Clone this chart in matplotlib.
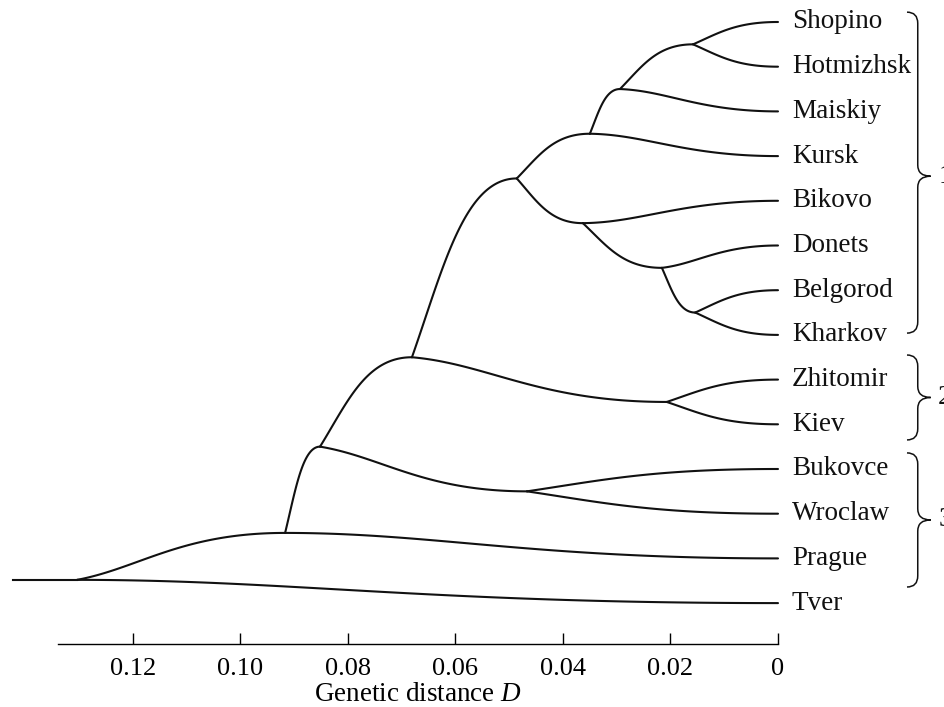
import numpy as np
import matplotlib
matplotlib.use("Agg")
import matplotlib.pyplot as plt
from matplotlib.path import Path
from matplotlib.patches import PathPatch

plt.rcParams['font.family'] = ['Liberation Serif', 'DejaVu Serif']
plt.rcParams['mathtext.fontset'] = 'custom'
plt.rcParams['mathtext.it'] = 'Liberation Serif:italic'
plt.rcParams['mathtext.rm'] = 'Liberation Serif'

# leaves, top to bottom
leaves = ['Shopino', 'Hotmizhsk', 'Maiskiy', 'Kursk', 'Bikovo', 'Donets',
          'Belgorod', 'Kharkov', 'Zhitomir', 'Kiev', 'Bukovce', 'Wroclaw',
          'Prague', 'Tver']

# internal nodes: name -> children, genetic distance D, row
node_names = ['A', 'B', 'C', 'W', 'V', 'U', 'Dn', 'X', 'R', 'S', 'Q', 'P', 'root']
node_children = [('Shopino', 'Hotmizhsk'), ('A', 'Maiskiy'), ('B', 'Kursk'),
                 ('Belgorod', 'Kharkov'), ('Donets', 'W'), ('Bikovo', 'V'),
                 ('C', 'U'), ('Zhitomir', 'Kiev'), ('Dn', 'X'),
                 ('Bukovce', 'Wroclaw'), ('R', 'S'), ('Q', 'Prague'),
                 ('P', 'Tver')]
node_dist = [0.0158, 0.0294, 0.0350, 0.0154, 0.0216, 0.0363, 0.0486,
             0.0207, 0.0681, 0.0467, 0.0852, 0.0917, 0.1304]
node_row = [0.5, 1.5, 2.5, 6.5, 5.5, 4.5, 3.5, 8.5, 7.5, 10.5, 9.5, 11.43, 12.48]
root_stub = 0.1423

# clusters: label, extent of the brace (rows)
groups = ['1', '2', '3']
group_top = [-0.22, 7.45, 9.64]
group_bot = [6.96, 9.35, 12.64]
group_tip = [3.45, 8.4, 11.14]

ticks = [0.12, 0.10, 0.08, 0.06, 0.04, 0.02, 0]
tick_labels = ['0.12', '0.10', '0.08', '0.06', '0.04', '0.02', '0']

pos = {name: (0.0, i) for i, name in enumerate(leaves)}
for n, d, r in zip(node_names, node_dist, node_row):
    pos[n] = (d, r)

fig = plt.figure(figsize=(9.45, 7.07), dpi=100)
ax = fig.add_axes([58 / 945, 63 / 707, 720 / 945, 644 / 707])
ax.set_xlim(0.13395, 0)
ax.set_ylim(13.915, -0.492)

lw = 1.5
col = '#111111'
px_x, px_y = 5375.0, 44.7   # rough pixel scale, only used for curve shape


def branch(p, c, terminal):
    x0, y0 = p
    x3, y3 = c
    dx, dy = x3 - x0, y3 - y0
    r = abs(dy * px_y) / max(abs(dx * px_x), 1e-9)
    if terminal:
        m = 0.5
    else:
        m = 0.5 * np.clip((r - 0.1) / 0.25, 0, 1)
    x1, y1 = x0 + 0.3 * dx, y0 + m * dy
    x2, y2 = x0 + 0.5 * dx, y3
    t = np.linspace(0, 1, 100)
    xs = (1 - t) ** 3 * x0 + 3 * (1 - t) ** 2 * t * x1 + 3 * (1 - t) * t ** 2 * x2 + t ** 3 * x3
    ys = (1 - t) ** 3 * y0 + 3 * (1 - t) ** 2 * t * y1 + 3 * (1 - t) * t ** 2 * y2 + t ** 3 * y3
    ax.plot(xs, ys, color=col, lw=lw, clip_on=False, solid_capstyle='round')


for n, ch in zip(node_names, node_children):
    terminal = all(c in leaves for c in ch)
    for c in ch:
        branch(pos[n], pos[c], terminal)

rd, rr = pos['root']
ax.plot([root_stub, rd], [rr, rr], color=col, lw=lw, clip_on=False)

for i, name in enumerate(leaves):
    ax.text(-0.0026, i, name, ha='left', va='center', fontsize=19.5,
            color=col, clip_on=False)

# braces (the cluster numbers run off the right edge, as in the scan)
xv, xh, xt = -0.0260, -0.0240, -0.0284
h = 0.25
for g, y0, y1, ym in zip(groups, group_top, group_bot, group_tip):
    verts = [(xh, y0), (xv, y0), (xv, y0 + h), (xv, ym - h),
             (xv, ym), (xt, ym), (xv, ym), (xv, ym + h),
             (xv, y1 - h), (xv, y1), (xh, y1)]
    codes = [Path.MOVETO, Path.CURVE3, Path.CURVE3, Path.LINETO,
             Path.CURVE3, Path.CURVE3, Path.CURVE3, Path.CURVE3,
             Path.LINETO, Path.CURVE3, Path.CURVE3]
    ax.add_patch(PathPatch(Path(verts, codes), fill=False, lw=1.1,
                           ec=col, clip_on=False))
    ax.text(-0.0298, ym, g, ha='left', va='center', fontsize=19.5,
            color=col, clip_on=False)

for s in ['left', 'right', 'top']:
    ax.spines[s].set_visible(False)
ax.spines['bottom'].set_linewidth(1.0)
ax.set_yticks([])
ax.set_xticks(ticks)
ax.set_xticklabels(tick_labels)
ax.tick_params(axis='x', direction='in', length=8, width=1.0, pad=10,
               labelsize=19)
ax.set_xlabel('Genetic distance $D$', fontsize=19.5, labelpad=1.5)

fig.savefig('out.png', dpi=100)
